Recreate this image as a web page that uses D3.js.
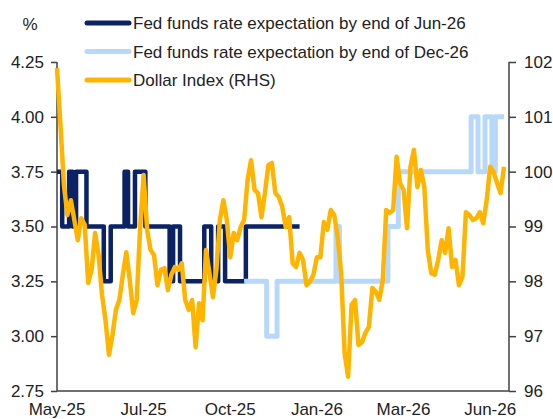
<!DOCTYPE html>
<html>
<head>
<meta charset="utf-8">
<script src="https://cdn.jsdelivr.net/npm/d3@7"></script>
<style>
  body { margin: 0; background: #fff; }
  svg text { font-family: "Liberation Sans", Arial, sans-serif; fill: #222; }
</style>
</head>
<body>
<svg id="chart" width="553" height="419"></svg>
<script>
// data, one value per observation (index along the x axis)

// Fed funds rate expectation by end of Jun-26 (%), left axis
const rateJun26 = [
  3.75, 3.75, 3.5, 3.5, 3.75, 3.5, 3.75, 3.75, 3.75, 3.5,
  3.5, 3.5, 3.5, 3.5, 3.25, 3.25, 3.5, 3.5, 3.5, 3.5,
  3.75, 3.5, 3.5, 3.75, 3.75, 3.75, 3.5, 3.5, 3.5, 3.5,
  3.5, 3.5, 3.5, 3.25, 3.5, 3.5, 3.25, 3.25, 3.25, 3.25,
  3.25, 3.25, 3.25, 3.5, 3.5, 3.25, 3.25, 3.5, 3.5, 3.25,
  3.25, 3.25, 3.25, 3.25, 3.25, 3.5, 3.5, 3.5, 3.5, 3.5,
  3.5, 3.5, 3.5, 3.5, 3.5, 3.5, 3.5, 3.5, 3.5, 3.5, 3.5
];

// Fed funds rate expectation by end of Dec-26 (%), left axis, starts later
const dec26Start = 54;
const rateDec26 = [
  3.25, 3.25, 3.25, 3.25, 3.25, 3.25, 3.25, 3.0, 3.0, 3.0,
  3.25, 3.25, 3.25, 3.25, 3.25, 3.25, 3.25, 3.25, 3.25, 3.25,
  3.25, 3.25, 3.25, 3.25, 3.25, 3.25, 3.25, 3.5, 3.25, 3.25,
  3.25, 3.25, 3.25, 3.25, 3.25, 3.25, 3.25, 3.25, 3.25, 3.25,
  3.25, 3.25, 3.5, 3.5, 3.5, 3.75, 3.75, 3.75, 3.75, 3.75,
  3.75, 3.75, 3.75, 3.75, 3.75, 3.75, 3.75, 3.75, 3.75, 3.75,
  3.75, 3.75, 3.75, 3.75, 3.75, 3.75, 4.0, 4.0, 3.75, 3.75,
  4.0, 4.0, 3.75, 4.0, 4.0, 4.0
];

// Dollar Index, right axis
const dollarIndex = [
  101.89, 100.85, 99.76, 99.21, 99.48, 99.12, 98.75, 99.15, 99.03, 97.97,
  98.21, 98.88, 98.48, 97.75, 97.29, 96.66, 97.02, 97.48, 97.66, 98.12,
  98.53, 98.02, 97.42, 97.66, 98.99, 99.94, 98.94, 98.57, 98.48, 97.93,
  98.21, 98.24, 97.84, 98.12, 98.26, 98.21, 98.33, 97.66, 97.48, 97.66,
  96.80, 97.60, 97.29, 98.57, 98.15, 97.71, 98.21, 99.12, 99.48, 99.12,
  98.44, 98.88, 98.75, 98.99, 99.12, 99.85, 100.21, 99.67, 99.61, 99.17,
  99.61, 100.12, 100.16, 99.61, 99.54, 99.36, 98.99, 99.17, 98.33, 98.26,
  98.52, 98.39, 97.93, 97.99, 98.12, 98.44, 98.44, 99.08, 98.94, 99.30,
  99.21, 98.81, 98.15, 96.69, 96.26, 97.57, 97.66, 96.84, 96.89, 97.06,
  97.17, 97.88, 97.81, 97.66, 98.02, 99.30, 99.25, 99.30, 100.27, 99.79,
  99.67, 98.97, 100.09, 100.40, 99.72, 100.03, 99.72, 98.57, 98.15, 98.12,
  98.39, 98.75, 98.52, 98.97, 98.26, 98.39, 97.93, 98.08, 99.26, 99.21,
  99.12, 99.15, 99.26, 99.06, 99.48, 100.09, 99.99, 99.79, 99.61, 100.09
];

// x axis labels and where they sit along the index
const xTickLabels = ['May-25', 'Jul-25', 'Oct-25', 'Jan-26', 'Mar-26', 'Jun-26'];
const xTickIndex = [0, 25, 50, 75, 100, 125];

const leftTicks = [2.75, 3.00, 3.25, 3.50, 3.75, 4.00, 4.25];
const rightTicks = [96, 97, 98, 99, 100, 101, 102];

const legendItems = [
  { name: 'Fed funds rate expectation by end of Jun-26', color: '#0b2265' },
  { name: 'Fed funds rate expectation by end of Dec-26', color: '#b8d8fa' },
  { name: 'Dollar Index (RHS)', color: '#ffb400' }
];

// layout
const plot = { left: 57, right: 509, top: 62, bottom: 391 };

const svg = d3.select('#chart');

const x = d3.scaleLinear().domain([0, 130]).range([plot.left, 507.5]);
const yLeft = d3.scaleLinear().domain([2.75, 4.25]).range([plot.bottom, plot.top]);
const yRight = d3.scaleLinear().domain([96, 102]).range([plot.bottom, plot.top]);

// axes
const leftAxis = d3.axisLeft(yLeft)
  .tickValues(leftTicks)
  .tickFormat(d3.format('.2f'))
  .tickSize(6)
  .tickPadding(7);

const rightAxis = d3.axisRight(yRight)
  .tickValues(rightTicks)
  .tickFormat(d3.format('d'))
  .tickSize(7)
  .tickPadding(8);

svg.append('g')
  .attr('transform', `translate(${plot.left},0)`)
  .call(leftAxis)
  .call(g => g.select('.domain').remove());

svg.append('g')
  .attr('transform', `translate(${plot.right},0)`)
  .call(rightAxis)
  .call(g => g.select('.domain').remove());

svg.selectAll('.tick line')
  .attr('stroke', '#404040')
  .attr('stroke-width', 1.5);

svg.selectAll('.tick text')
  .style('font-size', '17px')
  .attr('fill', '#222');

// axis lines drawn by hand so the box corners meet
const axisColor = '#404040';
svg.append('line')
  .attr('x1', plot.left).attr('x2', plot.left)
  .attr('y1', plot.top).attr('y2', plot.bottom)
  .attr('stroke', axisColor).attr('stroke-width', 1.5);
svg.append('line')
  .attr('x1', plot.right).attr('x2', plot.right)
  .attr('y1', plot.top).attr('y2', plot.bottom)
  .attr('stroke', axisColor).attr('stroke-width', 1.5);
svg.append('line')
  .attr('x1', plot.left).attr('x2', plot.right)
  .attr('y1', plot.bottom).attr('y2', plot.bottom)
  .attr('stroke', axisColor).attr('stroke-width', 1.5);

// x labels (no tick marks)
svg.append('g')
  .selectAll('text')
  .data(xTickLabels)
  .join('text')
  .attr('x', (d, i) => x(xTickIndex[i]))
  .attr('y', 415)
  .attr('text-anchor', 'middle')
  .style('font-size', '17px')
  .text(d => d);

// unit label
svg.append('text')
  .attr('x', 30)
  .attr('y', 30)
  .attr('text-anchor', 'middle')
  .style('font-size', '17px')
  .text('%');

// lines
const stepLine = d3.line()
  .x(d => x(d.i))
  .y(d => yLeft(d.v))
  .curve(d3.curveStep);

const jun26Data = rateJun26.map((v, i) => ({ i: i, v: v }));
const dec26Data = rateDec26.map((v, i) => ({ i: i + dec26Start, v: v }));
const dollarData = dollarIndex.map((v, i) => ({ i: i, v: v }));

svg.append('path')
  .datum(jun26Data)
  .attr('d', stepLine)
  .attr('fill', 'none')
  .attr('stroke', legendItems[0].color)
  .attr('stroke-width', 4.5)
  .attr('stroke-linejoin', 'round');

svg.append('path')
  .datum(dec26Data)
  .attr('d', stepLine)
  .attr('fill', 'none')
  .attr('stroke', legendItems[1].color)
  .attr('stroke-width', 5)
  .attr('stroke-linejoin', 'round');

svg.append('path')
  .datum(dollarData)
  .attr('d', d3.line().x(d => x(d.i)).y(d => yRight(d.v)))
  .attr('fill', 'none')
  .attr('stroke', legendItems[2].color)
  .attr('stroke-width', 4.5)
  .attr('stroke-linejoin', 'round');

// legend
const legend = svg.append('g')
  .selectAll('g')
  .data(legendItems)
  .join('g')
  .attr('transform', (d, i) => `translate(87, ${23 + i * 28.5})`);

legend.append('line')
  .attr('x1', 0).attr('x2', 42)
  .attr('stroke', d => d.color)
  .attr('stroke-width', 5)
  .attr('stroke-linecap', 'round');

legend.append('text')
  .attr('x', 46)
  .attr('y', 6)
  .style('font-size', '17px')
  .text(d => d.name);
</script>
</body>
</html>
